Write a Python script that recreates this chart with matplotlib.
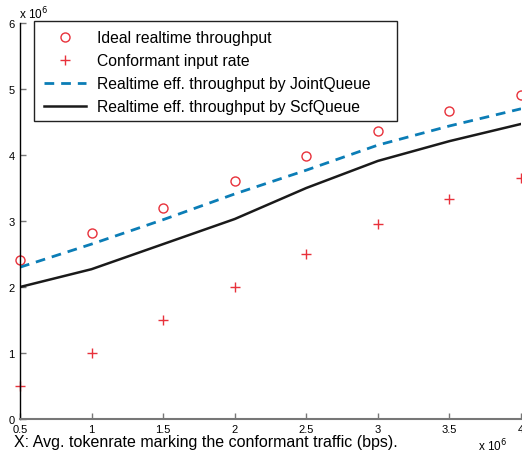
import matplotlib
matplotlib.use("Agg")
import matplotlib.pyplot as plt
from matplotlib.patches import Rectangle
from matplotlib.ticker import FixedLocator

plt.rcParams['font.family'] = ['Liberation Sans', 'DejaVu Sans']

# Token rate (x 10^6 bps)
token_rate = [0.5, 1.0, 1.5, 2.0, 2.5, 3.0, 3.5, 4.0]
ideal_throughput = [2.41, 2.82, 3.20, 3.61, 3.98, 4.36, 4.67, 4.91]
conformant_rate = [0.50, 1.00, 1.50, 2.00, 2.50, 2.95, 3.33, 3.65]
joint_queue = [2.30, 2.65, 3.02, 3.41, 3.77, 4.15, 4.44, 4.70]
scf_queue = [2.00, 2.27, 2.65, 3.03, 3.50, 3.91, 4.21, 4.47]

x_ticks = [0.5, 1, 1.5, 2, 2.5, 3, 3.5, 4]
x_tick_labels = ["0.5", "1", "1.5", "2", "2.5", "3", "3.5", "4"]
y_ticks = [0, 1, 2, 3, 4, 5, 6]

red = "#e8313b"
blue = "#0b7db6"

W, H = 522, 460
fig = plt.figure(figsize=(W / 100, H / 100), dpi=100)
ax = fig.add_axes([20 / W, 1 - 420 / H, 501 / W, 396 / H])

ax.plot(token_rate, ideal_throughput, linestyle="none", marker="o",
        markersize=6.5, markerfacecolor="none", markeredgecolor=red,
        markeredgewidth=1.0, label="Ideal realtime throughput", clip_on=False)
ax.plot(token_rate, conformant_rate, linestyle="none", marker="+",
        markersize=7, markeredgecolor=red, markeredgewidth=1.0,
        label="Conformant input rate", clip_on=False)
ax.plot(token_rate, joint_queue, linestyle=(0, (3.5, 2.5)), color=blue,
        linewidth=2.0, label="Realtime eff. throughput by JointQueue")
ax.plot(token_rate, scf_queue, linestyle="-", color="#1a1a1a",
        linewidth=1.8, label="Realtime eff. throughput by ScfQueue")

ax.set_xlim(0.5, 4)
ax.set_ylim(0, 6)
ax.xaxis.set_major_locator(FixedLocator(x_ticks))
ax.set_xticklabels(x_tick_labels)
ax.yaxis.set_major_locator(FixedLocator(y_ticks))

for side in ("top", "right"):
    ax.spines[side].set_visible(False)
ax.spines["left"].set_color("black")
ax.spines["left"].set_linewidth(1.0)
ax.spines["bottom"].set_color("#777777")
ax.spines["bottom"].set_linewidth(1.5)

ax.tick_params(direction="in", length=4, width=1, color="#777777",
               labelsize=8)
ax.tick_params(axis="x", pad=3.5)
ax.tick_params(axis="y", pad=4)

# Legend entries without a frame; the box is drawn separately so it can be
# wider than the text.
leg = fig.legend(loc="upper left", bbox_to_anchor=(44 / W, 1 - 31 / H),
                 fontsize=11.3, frameon=False, handlelength=2.7,
                 handletextpad=0.65, labelspacing=0.52, borderpad=0,
                 borderaxespad=0)
fig.add_artist(Rectangle((34 / W, 1 - 122 / H), (397 - 34) / W, 100 / H,
                         transform=fig.transFigure, facecolor="white",
                         edgecolor="#222222", linewidth=1.0, zorder=4))
leg.set_zorder(5)

fig.text(19 / W, 1 - 14 / H, r"x 10$^{6}$", fontsize=8.5,
         ha="left", va="center")
fig.text(478 / W, 1 - 446 / H, r"x 10$^{6}$", fontsize=8.5,
         ha="left", va="center")

fig.text(14 / W, 1 - 443 / H,
         "X: Avg. tokenrate marking the conformant traffic (bps).",
         fontsize=11.5, ha="left", va="center")

fig.savefig("out.png", dpi=100)
